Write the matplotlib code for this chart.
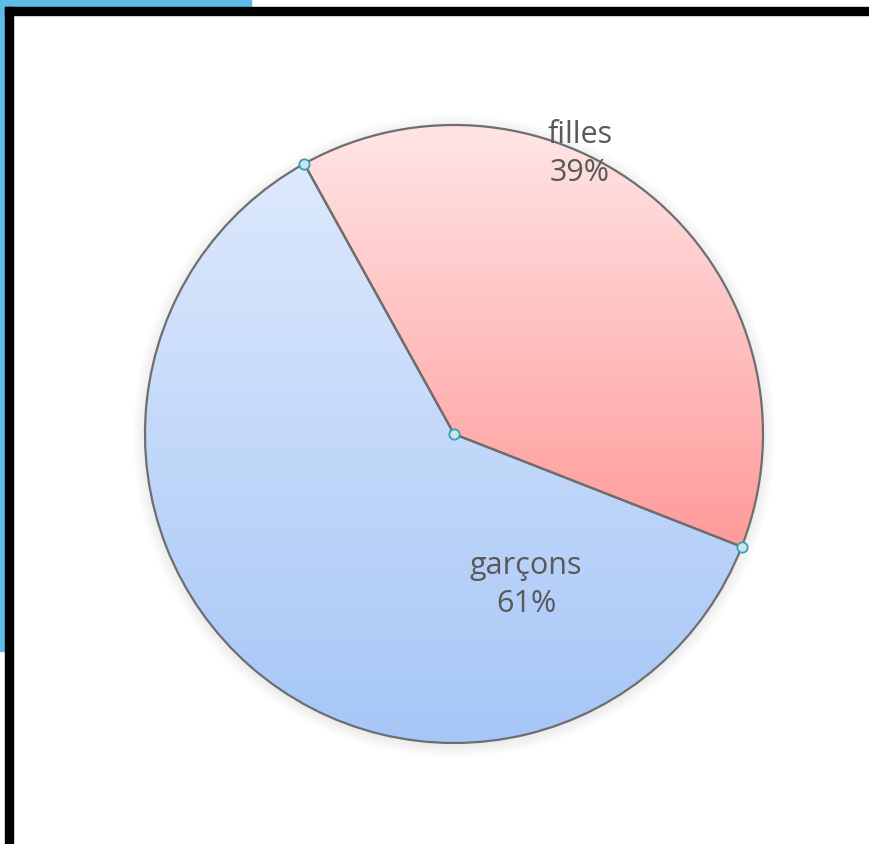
import matplotlib
matplotlib.use("Agg")
import matplotlib.pyplot as plt
import numpy as np
from matplotlib.colors import LinearSegmentedColormap
from matplotlib.patches import Rectangle

# data
labels = ["filles", "garçons"]
values = [39, 61]
top_colors = ["#ffe6e6", "#dde9fc"]
bottom_colors = ["#ff9a9a", "#a6c6f7"]

W, H = 869, 845
fig = plt.figure(figsize=(W / 100, H / 100), dpi=100)
fig.patch.set_facecolor("white")
ax = fig.add_axes([0, 0, 1, 1])
ax.set_xlim(0, W)
ax.set_ylim(0, H)
ax.set_aspect("equal")
ax.axis("off")

cx, cy, r = 454, H - 435, 309
start = 119.0

# soft shadow behind the pie
for k in range(6):
    ax.add_patch(plt.Circle((cx, cy - 2), r + 2 + k * 2, color="#000000",
                            alpha=0.012, lw=0, zorder=0))

wedges, _ = ax.pie(values, startangle=start, counterclock=False,
                   center=(cx, cy), radius=r, frame=True,
                   wedgeprops=dict(edgecolor="#6e6e6e", linewidth=1.6))
ax.set_xlim(0, W)
ax.set_ylim(0, H)
ax.axis("off")

# vertical gradient fill clipped to each wedge, spanning the wedge's own height
grad = np.linspace(0, 1, 256).reshape(-1, 1)
for w, c0, c1 in zip(wedges, top_colors, bottom_colors):
    w.set_facecolor("none")
    verts = w.get_path().vertices
    y0, y1 = verts[:, 1].min(), verts[:, 1].max()
    cmap = LinearSegmentedColormap.from_list("g", [c0, c1])
    im = ax.imshow(grad, cmap=cmap, aspect="auto",
                   extent=(cx - r, cx + r, y0, y1),
                   origin="upper", zorder=1)
    im.set_clip_path(w)
    w.set_zorder(2)

ax.set_xlim(0, W)
ax.set_ylim(0, H)

# handle markers at the wedge vertices
ang0 = np.deg2rad(start)
ang1 = np.deg2rad(start - 360 * values[0] / sum(values))
px = [cx, cx + r * np.cos(ang0), cx + r * np.cos(ang1)]
py = [cy, cy + r * np.sin(ang0), cy + r * np.sin(ang1)]
ax.scatter(px, py, s=55, facecolor="#c8e6f0", edgecolor="#3a9fb8",
           linewidth=1.3, zorder=4)

font = ["Open Sans", "DejaVu Sans"]
ax.text(cx + 126, cy + 281, "filles\n39%", ha="center", va="center",
        fontsize=22, color="#595959", family=font, linespacing=1.38, zorder=5)
ax.text(cx + 72, cy - 150, "garçons\n61%", ha="center", va="center",
        fontsize=22, color="#595959", family=font, linespacing=1.38, zorder=5)

# screenshot frame: blue strip and black border
fig.patches.append(Rectangle((0, (H - 8) / H), 251 / W, 8 / H, transform=fig.transFigure,
                             color="#5dbbe8", zorder=10))
fig.patches.append(Rectangle((0, (H - 652) / H), 6 / W, 652 / H, transform=fig.transFigure,
                             color="#5dbbe8", zorder=10))
fig.patches.append(Rectangle((5 / W, (H - 16) / H), 1 - 5 / W, 8 / H, transform=fig.transFigure,
                             color="black", zorder=11))
fig.patches.append(Rectangle((5 / W, 0), 8 / W, (H - 8) / H, transform=fig.transFigure,
                             color="black", zorder=11))

plt.savefig("out.png", dpi=100, facecolor="white")
